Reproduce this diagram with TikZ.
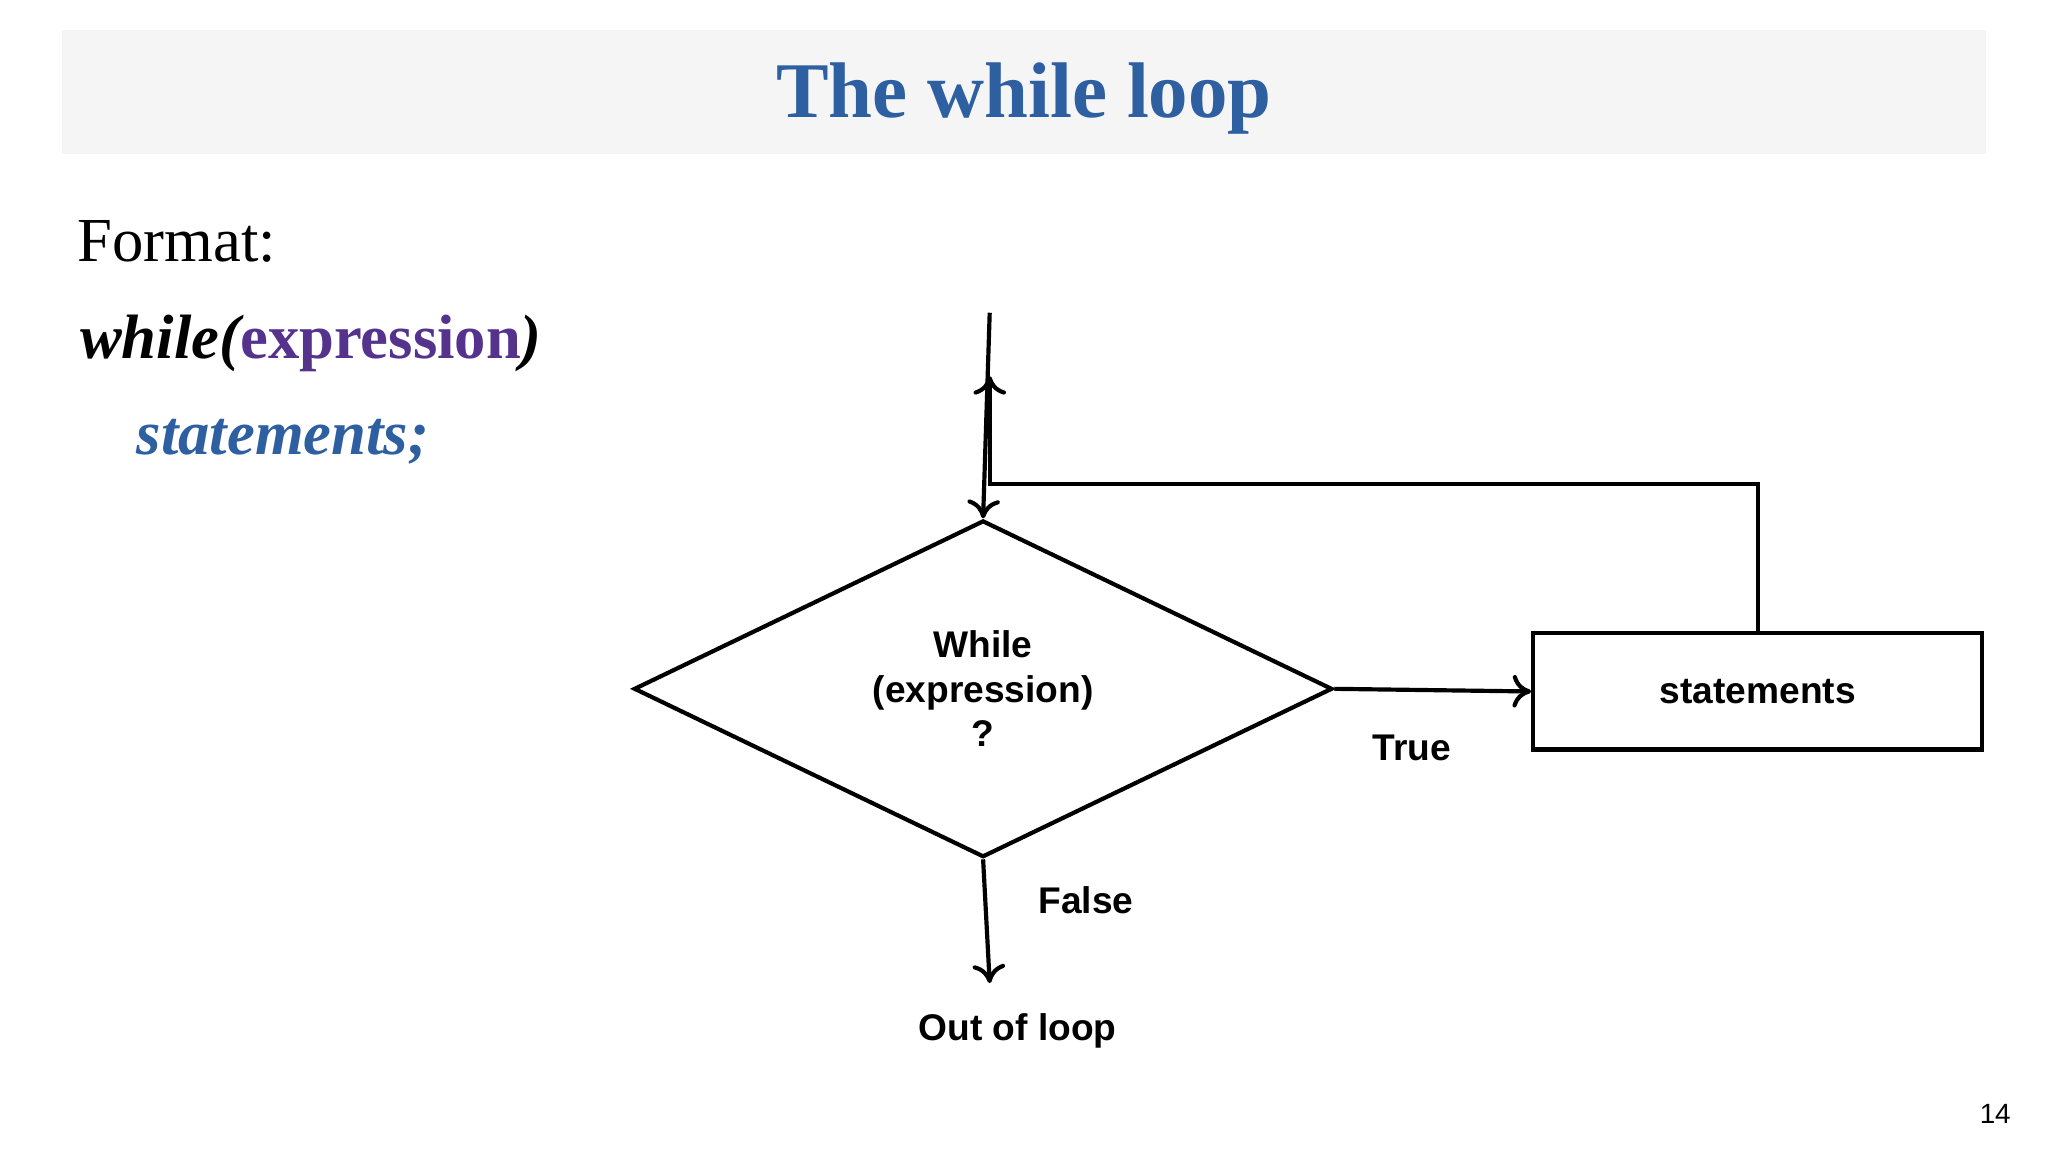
\documentclass[tikz,border=0pt]{standalone}
\usepackage{fontspec}
\setmainfont{Liberation Serif}
\newfontfamily\arialf{Liberation Sans}
\usetikzlibrary{shapes.geometric,arrows.meta}
\definecolor{titleblue}{RGB}{46,95,160}
\definecolor{exprpurple}{RGB}{85,50,140}
\definecolor{band}{RGB}{245,245,245}
\tikzset{
  flow/.style={draw=black,line width=0.9pt},
  arr/.style={flow,-{To[length=4pt,width=7pt]}},
  lbl/.style={font=\arialf\bfseries\fontsize{8}{9.6}\selectfont,align=center,inner sep=0pt}
}
\begin{document}
\begin{tikzpicture}[x=0.01cm,y=-0.01cm]
\useasboundingbox (0,0) rectangle (1552,873);
\fill[band] (47,23) rectangle (1505,117);
\node[font=\fontsize{17}{20}\selectfont\bfseries,text=titleblue] (title) at (776,75) {The while loop};
\node[anchor=west,font=\fontsize{13.5}{16}\selectfont,inner sep=0pt] (fmt) at (58,183) {Format:};
\node[anchor=west,font=\fontsize{13.5}{16}\selectfont\bfseries\itshape,inner sep=0pt] (wh) at (60,260) {while(\textcolor{exprpurple}{\upshape expression})};
\node[anchor=west,font=\fontsize{13.5}{16}\selectfont\bfseries\itshape,text=titleblue,inner sep=0pt] (st) at (103,335) {statements;};
\node[diamond,flow,minimum width=5.29cm,minimum height=2.24cm,inner sep=0pt,lbl] (dec) at (745,522) {While\\(expression)\\?};
\node[flow,minimum width=3.4cm,minimum height=0.88cm,lbl] (stm) at (1332,524) {statements};
\coordinate (top) at (750,237);
\coordinate (up) at (750,285);
\coordinate (corner) at (750,367);
\coordinate (rc) at (1332,367);
\coordinate (out) at (750,745);
\draw[arr] (top) -- (dec.north);
\draw[arr] (stm.north) -- (rc) -- (corner) -- (up);
\draw[arr] (dec.east) -- (stm.west);
\draw[arr] (dec.south) -- (out);
\node[lbl] (true) at (1070,567) {True};
\node[lbl] (false) at (823,682) {False};
\node[lbl] (ool) at (771,781) {Out of loop};
\node[font=\arialf\fontsize{6}{7}\selectfont] (pg) at (1512,844) {14};
\end{tikzpicture}
\end{document}
